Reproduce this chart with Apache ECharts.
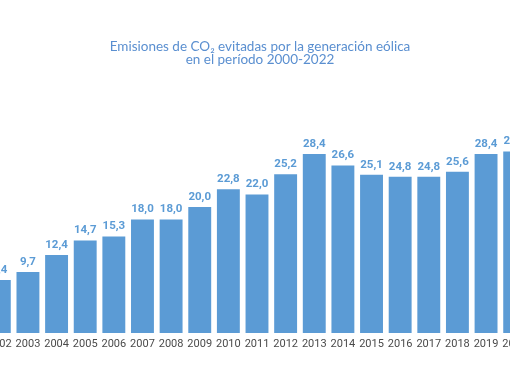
<!DOCTYPE html>
<html>
<head>
<meta charset="utf-8">
<script src="https://cdn.jsdelivr.net/npm/echarts@6/dist/echarts.min.js"></script>
<style>
html,body{margin:0;padding:0;background:#fff;overflow:hidden;width:510px;height:382px;}
#c{position:absolute;left:-16px;top:0;width:546px;height:382px;}
</style>
</head>
<body>
<div id="c"></div>
<script>
var years = ['2002','2003','2004','2005','2006','2007','2008','2009','2010','2011','2012','2013','2014','2015','2016','2017','2018','2019','2020'];
var values = [8.4,9.7,12.4,14.7,15.3,18.0,18.0,20.0,22.8,22.0,25.2,28.4,26.6,25.1,24.8,24.8,25.6,28.4,28.8];
var titleText = 'Emisiones de CO\u2082 evitadas por la generación eólica\nen el período 2000-2022';

var chart = echarts.init(document.getElementById('c'));
chart.setOption({
  animation: false,
  title: {
    text: titleText,
    left: 271,
    top: 35,
    textAlign: 'center',
    textStyle: {color: '#5a8fd0', fontSize: 13.5, fontWeight: 'normal', fontFamily: 'Lato', lineHeight: 13}
  },
  grid: {left: 0, right: 0, top: 144, bottom: 49, containLabel: false},
  xAxis: {
    type: 'category',
    data: years,
    axisLine: {show: false},
    axisTick: {show: false},
    axisLabel: {color: '#4a4a4a', fontSize: 11, fontFamily: 'Roboto', margin: 6, interval: 0}
  },
  yAxis: {
    type: 'value', min: 0, max: 30, show: false,
    splitLine: {show: false}
  },
  series: [{
    type: 'bar',
    data: values,
    barCategoryGap: '20%',
    itemStyle: {color: '#5b9bd5'},
    label: {
      show: true, position: 'top', distance: 4,
      color: '#5b9bd5', fontWeight: 'bold', fontSize: 11.5, fontFamily: 'Roboto',
      formatter: function(p){ return p.value.toFixed(1).replace('.', ','); }
    }
  }]
});
</script>
</body>
</html>
